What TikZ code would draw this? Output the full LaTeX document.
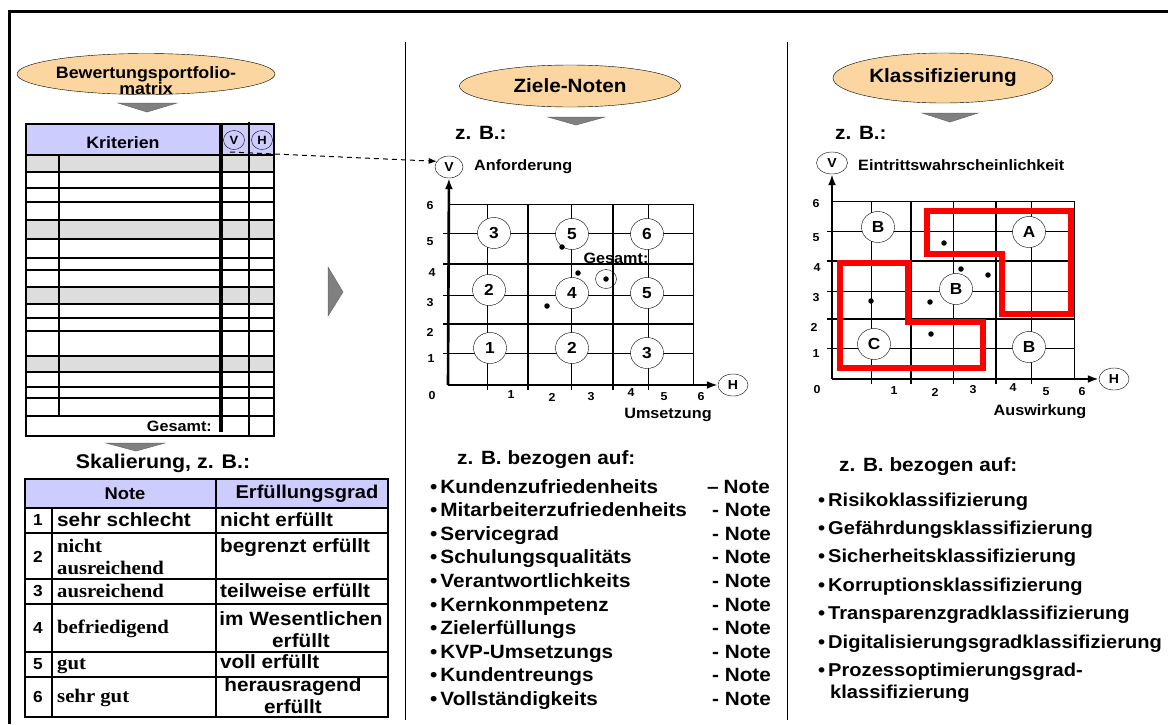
\documentclass[tikz,border=0pt]{standalone}
\usepackage{fontspec}
\setmainfont{Liberation Sans}[FakeStretch=1.08]
\newfontfamily\serifb{Liberation Serif}[FakeStretch=1.08]
\usepackage{xcolor}
\usepackage{tikz}
\usetikzlibrary{shapes.geometric, arrows.meta, positioning}
\definecolor{peach}{RGB}{252,214,160}
\definecolor{headblue}{RGB}{204,204,255}
\definecolor{bandgray}{RGB}{221,221,221}
\definecolor{trigray}{RGB}{128,128,128}
\definecolor{markred}{RGB}{255,0,0}

\begin{document}
\begin{tikzpicture}[x=1pt, y=-1pt,
    headell/.style={ellipse, draw, fill=peach, inner sep=0pt, font=\fontsize{19.2}{22}\selectfont\bfseries},
    smallcirc/.style={ellipse, draw, minimum width=21pt, minimum height=19pt, inner sep=0pt, font=\fontsize{12}{12}\selectfont\bfseries},
    valcirc/.style={ellipse, draw, fill=white, minimum width=33pt, minimum height=31pt, inner sep=0pt, font=\fontsize{16}{16}\selectfont\bfseries},
    axlab/.style={ellipse, draw, fill=white, minimum width=30pt, minimum height=22pt, inner sep=0pt, font=\fontsize{13}{13}\selectfont\bfseries},
    midlab/.style={inner sep=0pt, font=\fontsize{15}{17}\selectfont\bfseries},
    ticklab/.style={inner sep=0pt, font=\fontsize{11.5}{12}\selectfont\bfseries},
    lst/.style={anchor=base west, inner sep=0pt, font=\fontsize{19.2}{22}\selectfont\bfseries},
    rlst/.style={lst, font=\fontsize{18.6}{22}\selectfont\bfseries},
    cell/.style={anchor=base west, inner sep=0pt, font=\fontsize{19.2}{22}\selectfont\bfseries},
    cellser/.style={cell, font=\fontsize{19.2}{22}\selectfont\serifb\bfseries},
    numcell/.style={inner sep=0pt, font=\fontsize{16}{16}\selectfont\bfseries},
    dotpt/.style={circle, fill=black, inner sep=0pt, minimum size=5.5pt},
    tline/.style={line width=1.1pt},
    thingrid/.style={line width=1pt},
    thickgrid/.style={line width=2.2pt},
    axarr/.style={-{Latex[length=11pt, width=8pt]}, line width=2.6pt},
    tri/.style={fill=trigray, draw=black!60, line width=0.5pt},
    redzone/.style={draw=markred, line width=6pt}
]
\useasboundingbox (0,0) rectangle (1168,724);

% frame and columns
\draw[line width=3pt] (9,724) -- (9,11) -- (1168,11);
\draw[line width=1pt] (405,42) -- (405,720);
\draw[line width=1pt] (787,42) -- (787,720);

% left column: portfolio matrix
\node[headell, minimum width=258pt, minimum height=41pt] (bpm) at (146,74) {};
\node[font=\fontsize{16.5}{16}\selectfont\bfseries, align=center, inner sep=0pt] (bpmlbl) at (146,81) {Bewertungsportfolio-\\matrix};
\filldraw[tri] (118,103) -- (177,103) -- (147,112) -- cycle;

\fill[headblue] (26,124) rectangle (274,155);
\foreach \ya/\yb in {155/172,220/239,287/304,356/372}
    \fill[bandgray] (26,\ya) rectangle (274,\yb);
\foreach \yy in {155,172,188,202,220,239,258,270,287,304,318,331,356,372,387,398,416}
    \draw[tline] (26,\yy) -- (274,\yy);
\draw[tline] (26,124) rectangle (274,436);
\draw[tline] (59,155) -- (59,416);
\draw[line width=4pt] (221,124) -- (221,432);
\draw[tline] (249,122) -- (249,436);
\node[font=\fontsize{16.5}{17}\selectfont\bfseries] (krit) at (123,143) {Kriterien};
\node[smallcirc] (vk) at (234,140) {V};
\node[smallcirc] (hk) at (262,140) {H};
\node[anchor=base east, inner sep=0pt, font=\fontsize{15}{17}\selectfont\bfseries] (gesk) at (212,431) {Gesamt:};
\filldraw[tri] (106,443) -- (165,443) -- (136,451) -- cycle;

% scale table
\node[font=\fontsize{19.8}{22}\selectfont\bfseries] (skal) at (163,463) {Skalierung, z. B.:};
\fill[headblue] (25,479) rectangle (388,508);
\foreach \yy in {508,533,579,604,652,677}
    \draw[tline] (25,\yy) -- (388,\yy);
\draw[tline] (25,479) rectangle (388,717);
\draw[tline] (52,508) -- (52,717);
\draw[tline] (216,479) -- (216,717);
\node[font=\fontsize{17}{19}\selectfont\bfseries] (note) at (125,494) {Note};
\node[font=\fontsize{18.6}{21}\selectfont\bfseries] (erf) at (307,494) {Erfüllungsgrad};
\node[numcell] (n1) at (38,520) {1};
\node[numcell] (n2) at (38,557) {2};
\node[numcell] (n3) at (38,591) {3};
\node[numcell] (n4) at (38,628) {4};
\node[numcell] (n5) at (38,664) {5};
\node[numcell] (n6) at (38,697) {6};
\node[cell] (g1) at (57,526) {sehr schlecht};
\node[cellser, anchor=west, align=left] (g2) at (57,557) {nicht\\ausreichend};
\node[cellser] (g3) at (57,597) {ausreichend};
\node[cellser] (g4) at (57,633) {befriedigend};
\node[cellser] (g5) at (57,669) {gut};
\node[cellser] (g6) at (57,702) {sehr gut};
\node[cell] (e1) at (220,526) {nicht erfüllt};
\node[cell] (e2) at (220,552) {begrenzt erfüllt};
\node[cell] (e3) at (220,597) {teilweise erfüllt};
\node[cell, anchor=center, align=center] (e4) at (301,630) {im Wesentlichen\\erfüllt};
\node[cell] (e5) at (220,668) {voll erfüllt};
\node[cell, anchor=center, align=center] (e6) at (293,696) {herausragend\\erfüllt};

\filldraw[tri] (328,267) -- (343,292) -- (328,316) -- cycle;

% middle column: Ziele-Noten
\node[headell, minimum width=221pt, minimum height=42pt] (zn) at (570,86) {Ziele-Noten};
\filldraw[tri] (548,117) -- (605,117) -- (576,125) -- cycle;
\node[lst] (zbm) at (455,139) {z. B.:};

\draw[thingrid] (448,204) -- (693,204);
\foreach \yy in {233,295,353} \draw[thingrid] (443,\yy) -- (693,\yy);
\foreach \yy in {264,324} \draw[thickgrid] (443,\yy) -- (693,\yy);
\foreach \xx in {487,571,648} \draw[thingrid] (\xx,204) -- (\xx,390);
\draw[thingrid] (693,204) -- (693,385);
\foreach \xx in {528,613} \draw[thickgrid] (\xx,204) -- (\xx,390);

\node[axlab, minimum width=28pt] (va) at (449,167) {V};
\node[axlab] (ha) at (733,385) {H};
\coordinate (m0) at (448,385);
\draw[axarr] (m0) -- (va);
\draw[axarr] (m0) -- (ha);
\node[midlab, anchor=west] (anf) at (474,167) {Anforderung};
\node[midlab] (ums) at (668,415) {Umsetzung};
\foreach \lab/\xx/\yy in {6/430/206,5/430/242,4/432/273,3/430/303,2/430/332,1/431/359,0/432/396}
    \node[ticklab] (my\lab) at (\xx,\yy) {\lab};
\foreach \lab/\xx/\yy in {1/511/395,2/552/397,3/591/397,4/631/393,5/664/397,6/701/397}
    \node[ticklab] (mx\lab) at (\xx,\yy) {\lab};

\node[valcirc] (z3a) at (494,233) {3};
\node[valcirc] (z5a) at (572,234) {5};
\node[valcirc] (z6) at (647,234) {6};
\node[valcirc] (z2a) at (489,290) {2};
\node[valcirc] (z4) at (572,293) {4};
\node[valcirc] (z5b) at (647,293) {5};
\node[valcirc] (z1) at (490,348) {1};
\node[valcirc] (z2b) at (572,348) {2};
\node[valcirc] (z3b) at (647,353) {3};
\node[dotpt] (md1) at (562,247) {};
\node[dotpt] (md2) at (578,273) {};
\node[dotpt] (md3) at (547,306) {};
\node[ellipse, draw, minimum width=21pt, minimum height=19pt, inner sep=0pt] (gescirc) at (606,279) {};
\node[dotpt] (md4) at (606,279) {};
\node[midlab] (gesm) at (616,258) {Gesamt:};

\coordinate (dstart) at (230,152);
\draw[dash pattern=on 5pt off 4pt, line width=1pt, -{Latex[length=8pt, width=6pt]}] (dstart) -- (va.155);

\node[lst] (bzm) at (457,464) {z. B. bezogen auf:};
\foreach \txt [count=\i] in {Kundenzufriedenheits, Mitarbeiterzufriedenheits, Servicegrad, Schulungsqualitäts, Verantwortlichkeits, Kernkonmpetenz, Zielerfüllungs, KVP-Umsetzungs, Kundentreungs, Vollständigkeits}
    \node[lst] (ml\i) at (430,469.4+23.6*\i) {\textbullet\kern3pt\txt};
\node[lst] (mn1) at (707,493) {–\kern5pt Note};
\foreach \i in {2,...,10}
    \node[lst] (mn\i) at (712,469.4+23.6*\i) {- Note};

% right column: Klassifizierung
\node[headell, minimum width=220pt, minimum height=50pt] (kl) at (943,78) {Klassifizierung};
\filldraw[tri] (922,113) -- (978,113) -- (950,122) -- cycle;
\node[lst] (zbr) at (835,139) {z. B.:};

\draw[thingrid] (832,201) -- (1074,201);
\foreach \yy in {231,291,348} \draw[thingrid] (827,\yy) -- (1074,\yy);
\foreach \yy in {261,319} \draw[thickgrid] (827,\yy) -- (1074,\yy);
\foreach \xx in {871,953,1031} \draw[thingrid] (\xx,201) -- (\xx,384);
\draw[thingrid] (1074,201) -- (1074,379);
\foreach \xx in {911,996} \draw[thickgrid] (\xx,201) -- (\xx,384);

\node[axlab, minimum width=31pt] (vb) at (832,163) {V};
\node[axlab] (hb) at (1114,379) {H};
\coordinate (r0) at (832,379);
\draw[axarr] (r0) -- (vb);
\draw[axarr] (r0) -- (hb);
\node[midlab, anchor=west] (ein) at (858,165) {Eintrittswahrscheinlichkeit};
\node[midlab] (ausw) at (1040,412) {Auswirkung};
\foreach \lab/\xx/\yy in {6/816/204,5/816/238,4/817/268,3/816/298,2/814/327,1/816/354,0/817/390}
    \node[ticklab] (ry\lab) at (\xx,\yy) {\lab};
\foreach \lab/\xx/\yy in {1/894/391,2/935/392,3/973/390,4/1013/388,5/1046/392,6/1082/392}
    \node[ticklab] (rx\lab) at (\xx,\yy) {\lab};

\draw[redzone] (927,211) -- (1071,211) -- (1071,314) -- (1002,314) -- (1002,254) -- (927,254) -- cycle;
\draw[redzone] (840,263) -- (908,263) -- (908,322) -- (983,322) -- (983,368) -- (840,368) -- cycle;

\node[valcirc] (kb1) at (878,227) {B};
\node[valcirc] (ka) at (1029,232) {A};
\node[valcirc] (kb2) at (956,289) {B};
\node[valcirc] (kc) at (874,344) {C};
\node[valcirc] (kb3) at (1029,347) {B};
\node[dotpt] (rd1) at (944,243) {};
\node[dotpt] (rd2) at (961,269) {};
\node[dotpt] (rd3) at (988,275) {};
\node[dotpt] (rd4) at (871,301) {};
\node[dotpt] (rd5) at (930,302) {};
\node[dotpt] (rd6) at (931,334) {};

\node[lst] (bzr) at (839,471) {z. B. bezogen auf:};
\foreach \txt [count=\i] in {Risikoklassifizierung, Gefährdungsklassifizierung, Sicherheitsklassifizierung, Korruptionsklassifizierung, Transparenzgradklassifizierung, Digitalisierungsgradklassifizierung, Prozessoptimierungsgrad-}
    \node[rlst] (rl\i) at (818,477.6+28.4*\i) {\textbullet\kern3pt\txt};
\node[rlst] (rl8) at (830,698) {klassifizierung};
\end{tikzpicture}
\end{document}
